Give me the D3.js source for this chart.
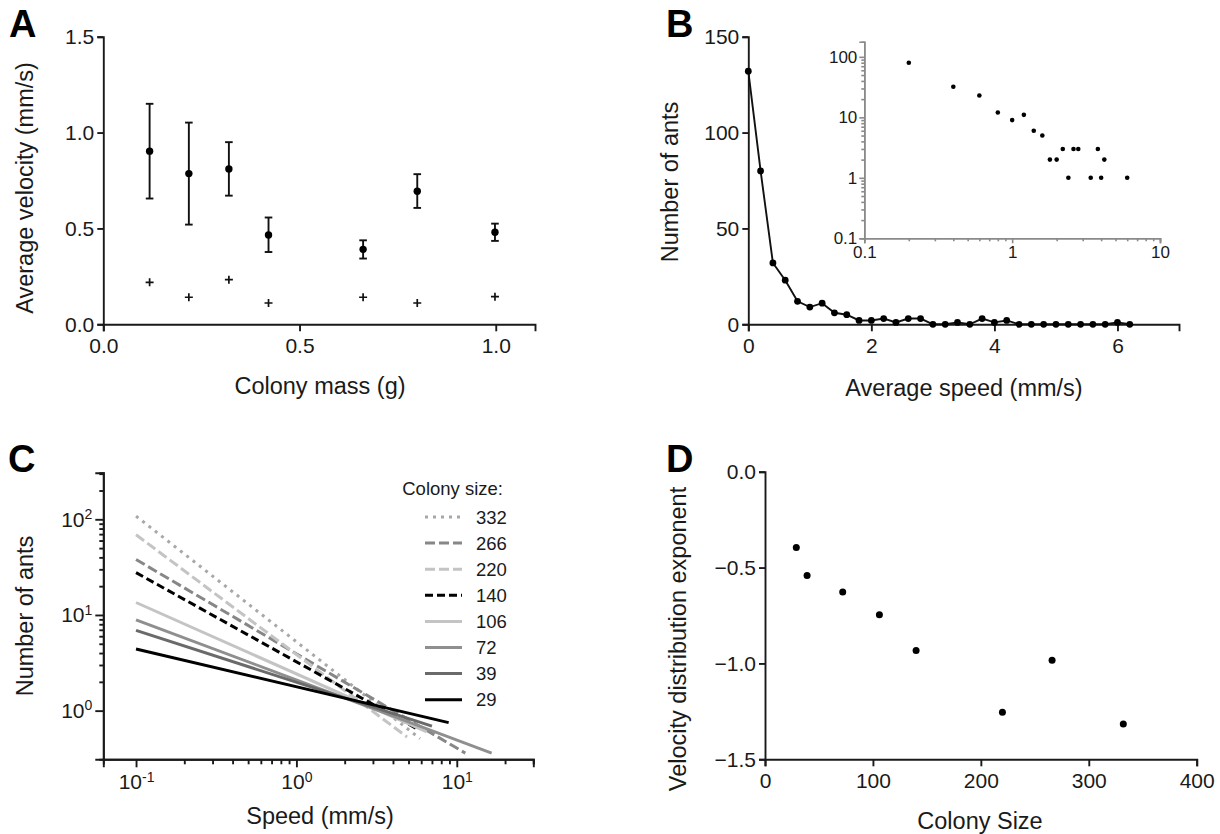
<!DOCTYPE html>
<html>
<head>
<meta charset="utf-8">
<script src="https://cdn.jsdelivr.net/npm/d3@7"></script>
<style>
  body { margin: 0; background: #fff; }
  svg, svg text { font-family: Arial, "Liberation Sans", sans-serif; }
  .axis path, .axis line { stroke: #1a1a1a; stroke-width: 1.9; }
  .axis text { fill: #1a1a1a; font-size: 21px; font-family: Arial, "Liberation Sans", sans-serif; }
  .inset path, .inset line { stroke: #8a8a8a; stroke-width: 1.6; }
  .inset text { fill: #1a1a1a; font-size: 17px; font-family: Arial, "Liberation Sans", sans-serif; }
  .title { font-size: 23.5px; fill: #1a1a1a; }
  .letter { font-size: 38px; font-weight: bold; fill: #000; }
</style>
</head>
<body>
<svg id="fig" width="1220" height="834"></svg>
<script>
// ---- data: panel A (colony mass vs average velocity)
const massX    = [0.118, 0.218, 0.320, 0.421, 0.662, 0.800, 0.998];
const velMean  = [0.903, 0.786, 0.810, 0.466, 0.391, 0.694, 0.480];
const velHigh  = [1.150, 1.052, 0.950, 0.557, 0.438, 0.783, 0.525];
const velLow   = [0.656, 0.520, 0.671, 0.377, 0.343, 0.607, 0.435];
const velPlus  = [0.219, 0.141, 0.233, 0.111, 0.141, 0.111, 0.144];
const aTicksX  = [0, 0.5, 1.0];
const aTicksY  = [0, 0.5, 1.0, 1.5];

// ---- data: panel B (speed histogram)
const speedBins = [0, 0.2, 0.4, 0.6, 0.8, 1.0, 1.2, 1.4, 1.6, 1.8, 2.0, 2.2, 2.4, 2.6, 2.8, 3.0,
                   3.2, 3.4, 3.6, 3.8, 4.0, 4.2, 4.4, 4.6, 4.8, 5.0, 5.2, 5.4, 5.6, 5.8, 6.0, 6.2];
const antCounts = [132, 80, 32, 23, 12, 9, 11, 6, 5, 2, 2, 3, 1, 3, 3, 0,
                   0, 1, 0, 3, 1, 2, 0, 0, 0, 0, 0, 0, 0, 0, 1, 0];
const bTicksX = [0, 2, 4, 6];
const bTicksY = [0, 50, 100, 150];
const insetTicksX = [0.1, 1, 10];
const insetTicksY = [0.1, 1, 10, 100];

// ---- data: panel C (power-law fits per colony size)
const colonySizes  = [332, 266, 220, 140, 106, 72, 39, 29];
const fitStartSpd  = [0.1, 0.1, 0.1, 0.1, 0.1, 0.1, 0.1, 0.1];
const fitStartN    = [108, 38, 69, 27.7, 13.5, 8.9, 6.9, 4.4];
const fitEndSpd    = [5.9, 11.3, 4.9, 5.8, 6.5, 16.5, 7.0, 8.9];
const fitEndN      = [0.51, 0.36, 0.53, 0.63, 0.60, 0.36, 0.69, 0.75];
const cMajorX = [0.1, 1, 10];
const cMinorX = [0.2, 0.3, 0.4, 0.5, 0.6, 0.7, 0.8, 0.9, 2, 3, 4, 5, 6, 7, 8, 9, 20, 30];
const cMajorY = [1, 10, 100];
const cMinorY = [2, 3, 4, 5, 6, 7, 8, 9, 20, 30, 40, 50, 60, 70, 80, 90, 200, 300];

// ---- data: panel D (exponent vs colony size)
const exponents = [-1.316, -0.984, -1.255, -0.933, -0.746, -0.627, -0.542, -0.395];
const dTicksX = [0, 100, 200, 300, 400];
const dTicksY = [-1.5, -1.0, -0.5, 0.0];

// line styles for panel C, same order as colonySizes
const cColors = ["#a8a8a8", "#878787", "#c4c4c4", "#000000", "#c4c4c4", "#8f8f8f", "#6a6a6a", "#000000"];
const cDashes = ["3,5", "10,4", "10,4", "8,4", null, null, null, null];

const svg = d3.select("#fig");

function letter(t, x, y) {
  svg.append("text").attr("class", "letter").attr("x", x).attr("y", y).text(t);
}
function xTitle(t, x, y) {
  svg.append("text").attr("class", "title").attr("x", x).attr("y", y)
    .attr("text-anchor", "middle").text(t);
}
function yTitle(t, x, y) {
  svg.append("text").attr("class", "title")
    .attr("transform", `translate(${x},${y}) rotate(-90)`)
    .attr("text-anchor", "middle").text(t);
}

// ================= Panel A =================
const ax = d3.scaleLinear().domain([0, 1.1]).range([103.3, 535]);
const ay = d3.scaleLinear().domain([0, 1.5]).range([324.3, 36.7]);

svg.append("g").attr("class", "axis").attr("transform", `translate(0,${ay(0)})`)
  .call(d3.axisBottom(ax).tickValues(aTicksX).tickFormat(d3.format(".1f"))
    .tickSizeOuter(0).tickSize(7).tickPadding(7));
svg.append("g").attr("class", "axis").attr("transform", `translate(${ax(0)},0)`)
  .call(d3.axisLeft(ay).tickValues(aTicksY).tickFormat(d3.format(".1f"))
    .tickSizeOuter(0).tickSize(6).tickPadding(3));

const aG = svg.append("g");
massX.forEach((m, i) => {
  const x = ax(m);
  aG.append("line").attr("x1", x).attr("x2", x).attr("y1", ay(velLow[i])).attr("y2", ay(velHigh[i]))
    .attr("stroke", "#111").attr("stroke-width", 1.9);
  [velLow[i], velHigh[i]].forEach(v => {
    aG.append("line").attr("x1", x - 3.8).attr("x2", x + 3.8).attr("y1", ay(v)).attr("y2", ay(v))
      .attr("stroke", "#111").attr("stroke-width", 1.9);
  });
  aG.append("circle").attr("cx", x).attr("cy", ay(velMean[i])).attr("r", 3.7).attr("fill", "#000");
  aG.append("path").attr("d", "M-4,0H4M0,-4V4")
    .attr("transform", `translate(${x},${ay(velPlus[i])})`)
    .attr("stroke", "#111").attr("stroke-width", 1.7).attr("fill", "none");
});

letter("A", 9, 37);
xTitle("Colony mass (g)", 320, 394);
yTitle("Average velocity (mm/s)", 33, 188);

// ================= Panel B =================
const bx = d3.scaleLinear().domain([0, 7]).range([748.3, 1179]);
const by = d3.scaleLinear().domain([0, 150]).range([324.3, 36.7]);

svg.append("g").attr("class", "axis").attr("transform", `translate(0,${by(0)})`)
  .call(d3.axisBottom(bx).tickValues(bTicksX).tickFormat(d3.format("d"))
    .tickSizeOuter(0).tickSize(7).tickPadding(7));
svg.append("g").attr("class", "axis").attr("transform", `translate(${bx(0)},0)`)
  .call(d3.axisLeft(by).tickValues(bTicksY).tickFormat(d3.format("d"))
    .tickSizeOuter(0).tickSize(6).tickPadding(3));

const bPts = speedBins.map((s, i) => [s, antCounts[i]]);
svg.append("path").datum(bPts)
  .attr("d", d3.line().x(d => bx(d[0])).y(d => by(d[1])))
  .attr("fill", "none").attr("stroke", "#111").attr("stroke-width", 1.9);
svg.append("g").selectAll("circle").data(bPts).join("circle")
  .attr("cx", d => bx(d[0])).attr("cy", d => by(d[1])).attr("r", 3.4).attr("fill", "#000");

letter("B", 666, 37);
xTitle("Average speed (mm/s)", 964, 396);
yTitle("Number of ants", 678, 182);

// inset (log-log of the same histogram)
const ix = d3.scaleLog().domain([0.1, 10]).range([864.3, 1160]);
const iy = d3.scaleLog().domain([0.1, 178]).range([238.3, 41.7]);
const iMinorX = [];
const iMinorY = [];
[0.1, 1].forEach(dec => { for (let k = 2; k <= 9; k++) iMinorX.push(dec * k); });
[0.1, 1, 10].forEach(dec => { for (let k = 2; k <= 9; k++) iMinorY.push(dec * k); });

svg.append("g").attr("class", "inset").attr("transform", `translate(0,${iy(0.1)})`)
  .call(d3.axisBottom(ix).tickValues(iMinorX).tickFormat("").tickSizeOuter(0).tickSize(3));
svg.append("g").attr("class", "inset").attr("transform", `translate(0,${iy(0.1)})`)
  .call(d3.axisBottom(ix).tickValues(insetTicksX).tickFormat(d3.format("~g"))
    .tickSizeOuter(0).tickSize(5).tickPadding(3));
svg.append("g").attr("class", "inset").attr("transform", `translate(${ix(0.1)},0)`)
  .call(d3.axisLeft(iy).tickValues(iMinorY).tickFormat("").tickSizeOuter(0).tickSize(3));
svg.append("g").attr("class", "inset").attr("transform", `translate(${ix(0.1)},0)`)
  .call(d3.axisLeft(iy).tickValues(insetTicksY).tickFormat(d3.format("~g"))
    .tickSizeOuter(0).tickSize(5).tickPadding(2));

svg.append("g").selectAll("circle").data(bPts.filter(d => d[0] > 0 && d[1] > 0)).join("circle")
  .attr("cx", d => ix(d[0])).attr("cy", d => iy(d[1])).attr("r", 2.3).attr("fill", "#000");

// ================= Panel C =================
const cx = d3.scaleLog().domain([0.0625, 30]).range([103.3, 533.3]);
const cy = d3.scaleLog().domain([0.31, 307]).range([759.3, 472.7]);

function superscript(sel) {
  sel.selectAll(".tick text").each(function (d) {
    const t = d3.select(this);
    t.text(null);
    t.append("tspan").text("10");
    t.append("tspan").attr("dy", "-0.55em").style("font-size", "14px").text(Math.round(Math.log10(d)));
  });
}

svg.append("g").attr("class", "axis").attr("transform", `translate(0,${cy.range()[0]})`)
  .call(d3.axisBottom(cx).tickValues(cMinorX).tickFormat("").tickSizeOuter(0).tickSize(5));
svg.append("g").attr("class", "axis").attr("transform", `translate(0,${cy.range()[0]})`)
  .call(d3.axisBottom(cx).tickValues(cMajorX).tickSizeOuter(0).tickSize(8).tickPadding(7))
  .call(superscript);
svg.append("g").attr("class", "axis").attr("transform", `translate(${cx.range()[0]},0)`)
  .call(d3.axisLeft(cy).tickValues(cMinorY).tickFormat("").tickSizeOuter(0).tickSize(4));
svg.append("g").attr("class", "axis").attr("transform", `translate(${cx.range()[0]},0)`)
  .call(d3.axisLeft(cy).tickValues(cMajorY).tickSizeOuter(0).tickSize(8).tickPadding(3))
  .call(superscript);

const cG = svg.append("g");
colonySizes.forEach((c, i) => {
  cG.append("line")
    .attr("x1", cx(fitStartSpd[i])).attr("y1", cy(fitStartN[i]))
    .attr("x2", cx(fitEndSpd[i])).attr("y2", cy(fitEndN[i]))
    .attr("stroke", cColors[i]).attr("stroke-width", 3)
    .attr("stroke-dasharray", cDashes[i]);
});

// legend
const legX = 425, legY0 = 517, legStep = 26.1;
svg.append("text").attr("x", 503).attr("y", legY0 - 22).attr("text-anchor", "end")
  .style("font-size", "18.5px").attr("fill", "#1a1a1a").text("Colony size:");
colonySizes.forEach((c, i) => {
  const y = legY0 + i * legStep;
  svg.append("line").attr("x1", legX).attr("x2", legX + 37).attr("y1", y).attr("y2", y)
    .attr("stroke", cColors[i]).attr("stroke-width", 3).attr("stroke-dasharray", cDashes[i]);
  svg.append("text").attr("x", legX + 51).attr("y", y + 6.5)
    .style("font-size", "18.5px").attr("fill", "#1a1a1a").text(c);
});

letter("C", 8, 472);
xTitle("Speed (mm/s)", 320, 824);
yTitle("Number of ants", 33, 616);

// ================= Panel D =================
const dx = d3.scaleLinear().domain([0, 400]).range([765, 1196.7]);
const dy = d3.scaleLinear().domain([-1.5, 0]).range([759.3, 471.7]);

svg.append("g").attr("class", "axis").attr("transform", `translate(0,${dy(-1.5)})`)
  .call(d3.axisBottom(dx).tickValues(dTicksX).tickSizeOuter(0).tickSize(7).tickPadding(7));
svg.append("g").attr("class", "axis").attr("transform", `translate(${dx(0)},0)`)
  .call(d3.axisLeft(dy).tickValues(dTicksY).tickFormat(d3.format(".1f"))
    .tickSizeOuter(0).tickSize(6).tickPadding(3));

svg.append("g").selectAll("circle").data(colonySizes).join("circle")
  .attr("cx", d => dx(d)).attr("cy", (d, i) => dy(exponents[i])).attr("r", 3.5).attr("fill", "#000");

letter("D", 666, 472);
xTitle("Colony Size", 980, 829);
yTitle("Velocity distribution exponent", 686, 639);
</script>
</body>
</html>
